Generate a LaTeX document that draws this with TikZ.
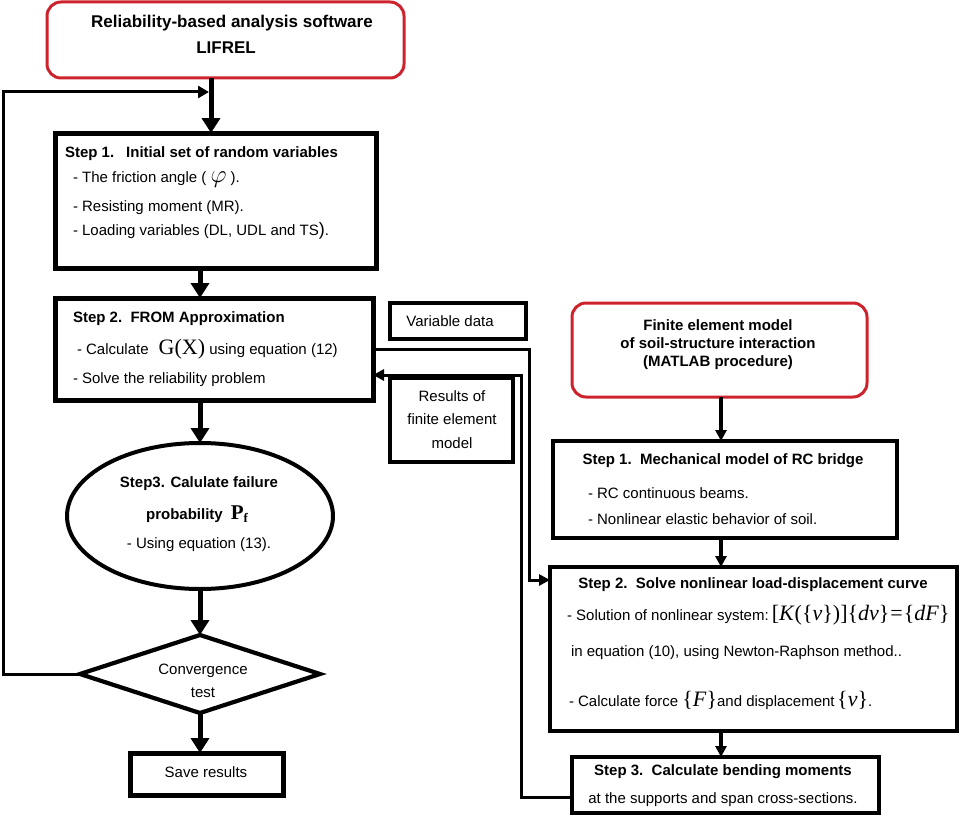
\documentclass[tikz,border=0pt]{standalone}
\usepackage[no-math]{fontspec}
\setmainfont{Liberation Sans}
\newfontfamily\tnr{Liberation Serif}
\usetikzlibrary{arrows.meta,shapes.geometric}
\definecolor{boxred}{RGB}{205,35,45}
\newcommand{\bigmath}{\tnr\fontsize{22}{22}\selectfont}
\begin{document}
\begin{tikzpicture}[x=1pt,y=-1pt,
  fs/.style={font=\fontsize{15}{18}\selectfont, inner sep=0pt, outer sep=0pt},
  fsb/.style={font=\fontsize{15}{18}\selectfont\bfseries, inner sep=0pt, outer sep=0pt},
  thickbox/.style={draw, line width=5pt, rectangle, inner sep=0pt, outer sep=0pt},
  midbox/.style={draw, line width=4pt, rectangle, inner sep=0pt, outer sep=0pt},
  redbox/.style={draw=boxred, line width=3pt, rectangle, rounded corners=14pt, inner sep=0pt, outer sep=0pt},
  bigarr/.style={line width=5pt, -{Triangle[length=15pt,width=18pt]}},
  smallarr/.style={line width=3.2pt, -{Triangle[length=11pt,width=11pt]}},
  conn/.style={line width=3pt}
]
\useasboundingbox (0,0) rectangle (959,816);

% ---------- left column shapes ----------
\node[redbox, minimum width=357pt, minimum height=76pt] (topred) at (225.5,40) {};
\node[thickbox, minimum width=321pt, minimum height=135pt] (s1L) at (215.5,200.5) {};
\node[thickbox, minimum width=318pt, minimum height=102pt] (s2L) at (214,349) {};
\node[draw, ellipse, line width=4pt, minimum width=266pt, minimum height=146pt, inner sep=0pt, outer sep=0pt] (ell) at (200,516) {};
\node[draw, diamond, line width=4.2pt, minimum width=240pt, minimum height=78pt, inner sep=0pt, outer sep=0pt] (dia) at (200,674) {};
\node[thickbox, minimum width=153pt, minimum height=42pt] (save) at (206.5,774) {};

% ---------- middle boxes ----------
\node[midbox, minimum width=136pt, minimum height=36pt] (vd) at (458,321) {};
\node[midbox, minimum width=123pt, minimum height=84pt] (res) at (451.5,420) {};

% ---------- right column shapes ----------
\node[redbox, minimum width=295pt, minimum height=94pt] (redR) at (719.5,350) {};
\node[midbox, minimum width=344pt, minimum height=97pt] (s1R) at (725,489.5) {};
\node[midbox, minimum width=407pt, minimum height=164pt] (s2R) at (753.5,649) {};
\node[midbox, minimum width=307pt, minimum height=56pt] (s3R) at (725.5,785) {};

% ---------- texts ----------
\node[font=\fontsize{17}{20}\selectfont\bfseries, inner sep=0pt, anchor=base] (tt1) at (232,28) {Reliability-based analysis software};
\node[font=\fontsize{17}{20}\selectfont\bfseries, inner sep=0pt, anchor=base] (tt2) at (226,54) {LIFREL};

\node[fsb, anchor=base west] (a1) at (65,157) {Step 1.\hspace{12pt}Initial set of random variables};
\node[fs, anchor=base west] (a2) at (73,182) {- The friction angle ( {\fontsize{23}{23}\selectfont$\varphi$} ).};
\node[fs, anchor=base west] (a3) at (73,211) {- Resisting moment (MR).};
\node[fs, anchor=base west] (a4) at (73,235) {- Loading variables (DL, UDL and TS{\fontsize{18}{18}\selectfont)}.};

\node[fsb, anchor=base west] (b1) at (73,322) {Step 2.\ \ FROM Approximation};
\node[fs, anchor=base west] (b2) at (77,354) {- Calculate\hspace{10pt}{\bigmath G(X)} using equation (12)};
\node[fs, anchor=base west] (b3) at (73,383) {- Solve the reliability problem};

\node[fsb, anchor=base] (c1) at (199,487) {Step3. Calulate failure};
\node[fsb, anchor=base] (c2) at (197,519) {probability\hspace{8pt}{\tnr\fontsize{21}{21}\selectfont P\raisebox{-3pt}{\fontsize{13}{13}\selectfont\bfseries f}}};
\node[fs, anchor=base] (c3) at (199,548) {- Using equation (13).};

\node[fs, anchor=base] (d1) at (203,674) {Convergence};
\node[fs, anchor=base] (d2) at (203,697) {test};
\node[fs, anchor=base] (e1) at (206,777) {Save results};

\node[fs, anchor=base] (v1) at (450,326) {Variable data};
\node[fs, anchor=base] (r1) at (452,401) {Results of};
\node[fs, anchor=base] (r2) at (452,424) {finite element};
\node[fs, anchor=base] (r3) at (452,448) {model};

\node[fsb, anchor=base] (f1) at (718,330) {Finite element model};
\node[fsb, anchor=base] (f2) at (718,348) {of soil-structure interaction};
\node[fsb, anchor=base] (f3) at (718,366) {(MATLAB procedure)};

\node[fsb, anchor=base] (g1) at (723,464) {Step 1.\ \ Mechanical model of RC bridge};
\node[fs, anchor=base west] (g2) at (588,498) {- RC continuous beams.};
\node[fs, anchor=base west] (g3) at (588,524) {- Nonlinear elastic behavior of soil.};

\node[fsb, anchor=base] (h1) at (753,588) {Step 2.\ \ Solve nonlinear load-displacement curve};
\node[fs, anchor=base west] (h2) at (567,620) {- Solution of nonlinear system:\hspace{3pt}{\bigmath[\textit{K}(\{\textit{v}\})]\{\textit{dv}\}\hspace{1pt}=\hspace{1pt}\{\textit{dF}\}}};
\node[fs, anchor=base west] (h3) at (571,656) {in equation (10), using Newton-Raphson method..};
\node[fs, anchor=base west] (h4) at (569,706) {- Calculate force\ {\bigmath\{\textit{F}\}}and displacement\,{\bigmath\{\textit{v}\}}.};

\node[fsb, anchor=base] (k1) at (723,775) {Step 3.\ \ Calculate bending moments};
\node[fs, anchor=base] (k2) at (723,803) {at the supports and span cross-sections.};

% ---------- helper coordinates ----------
\coordinate (fbend) at (211,92);
\coordinate (loopL) at (3,92);
\coordinate (colL) at (200,0);
\coordinate (outA) at (529,349);
\coordinate (jA) at (529,580);
\coordinate (rB) at (521,797);
\coordinate (rT) at (521,375);
\coordinate (colR) at (721,0);

% ---------- left connectors ----------
\draw[bigarr] (topred.south -| fbend) -- (s1L.north -| fbend);
\draw[conn, -{Triangle[length=11pt,width=12pt]}, shorten >=2pt] (dia.west) -| (loopL) -- (fbend);
\draw[bigarr] (s1L.south -| colL) -- (s2L.north -| colL);
\draw[bigarr] (s2L.south -| colL) -- (ell.north);
\draw[bigarr] (ell.south) -- (dia.north);
\draw[bigarr] (dia.south) -- (save.north -| dia.south);

% ---------- cross connectors ----------
\draw[conn, -{Triangle[length=11pt,width=11pt]}] (s2L.east |- outA) -- (outA) -- (jA) -- (s2R.west |- jA);
\draw[conn, -{Triangle[length=11pt,width=11pt]}] (s3R.west |- rB) -- (rB) -- (rT) -- (s2L.east |- rT);

% ---------- right connectors ----------
\draw[smallarr] (redR.south -| colR) -- (s1R.north -| colR);
\draw[smallarr] (s1R.south -| colR) -- (s2R.north -| colR);
\draw[smallarr] (s2R.south -| colR) -- (s3R.north -| colR);
\end{tikzpicture}
\end{document}
